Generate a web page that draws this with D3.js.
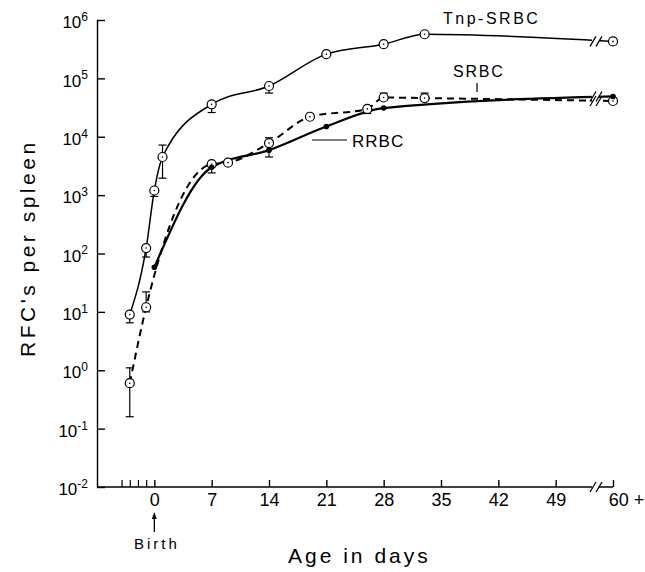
<!DOCTYPE html>
<html><head><meta charset="utf-8">
<script src="https://cdn.jsdelivr.net/npm/d3@7"></script>
<style>body{margin:0;background:#fff}svg{display:block;font-family:"Liberation Sans",Arial,sans-serif}</style>
</head><body><svg id="c" width="645" height="572"></svg>
<script>
// ---- data ----
const tnpDays   = [-3, -1, 0, 1, 7, 14, 21, 28, 33, 56];
const tnpValues = [9, 124, 1200, 4500, 36000, 74000, 260000, 385000, 570000, 430000];
const tnpLow    = [6.5, 87, 950, 1950, 26000, 56000, null, null, null, null];
const tnpHigh   = [null, null, null, 7200, null, null, null, null, null, null];

const srbcDays   = [-3, -1, 7, 9, 14, 19, 26, 28, 33, 56];
const srbcValues = [0.6, 12, 3400, 3600, 7800, 22000, 30000, 47000, 46000, 41000];
const srbcLow    = [0.16, 10, 2400, null, null, null, 25000, null, null, null];
const srbcHigh   = [1.1, 22, null, null, 9600, 25000, 33000, 56000, 56000, null];

const rrbcDays   = [0, 7, 14, 21, 28, 56];
const rrbcValues = [58, 3000, 5900, 15000, 31000, 49000];
const rrbcLow    = [null, null, 4500, null, null, null];
const rrbcHigh   = [null, null, null, null, null, null];

const xTickDays   = [0, 7, 14, 21, 28, 35, 42, 49, 56];
const xTickLabels = ["0", "7", "14", "21", "28", "35", "42", "49", "60 +"];
const xMinorDays  = [-4, -3, -2, -1];
const yTickExps   = [-2, -1, 0, 1, 2, 3, 4, 5, 6];

// ---- scales ----
const svg = d3.select("#c");
const x = d3.scaleLinear().domain([-7, 56]).range([97, 613]);
const y = d3.scaleLog().domain([1e-2, 1e6]).range([487, 20]);
const breakDay = 53.8;

// ---- axes ----
const xAxis = d3.axisBottom(x)
  .tickValues(xTickDays)
  .tickFormat((d, i) => xTickLabels[i])
  .tickSizeInner(-7).tickSizeOuter(0).tickPadding(6);
const gx = svg.append("g").attr("transform", `translate(0,${y(1e-2)})`).call(xAxis);
gx.selectAll("text").attr("font-size", 18).attr("fill", "#000");
gx.selectAll(".tick text").filter((d, i) => i === xTickDays.length - 1).attr("dx", 13);
gx.selectAll("line, path").attr("stroke", "#000").attr("stroke-width", 1.4);
gx.select(".domain").attr("d", `M${x(-7)},0H${x(56)}`);

const xMinor = d3.axisBottom(x).tickValues(xMinorDays).tickFormat("").tickSizeInner(-7).tickSizeOuter(0);
const gxm = svg.append("g").attr("transform", `translate(0,${y(1e-2)})`).call(xMinor);
gxm.select(".domain").remove();
gxm.selectAll("line").attr("stroke", "#000").attr("stroke-width", 1.2);

const yAxis = d3.axisLeft(y)
  .tickValues(yTickExps.map(e => Math.pow(10, e)))
  .tickFormat("").tickSizeInner(-8).tickSizeOuter(0);
const gy = svg.append("g").attr("transform", `translate(${x(-7)},0)`).call(yAxis);
gy.selectAll("line, path").attr("stroke", "#000").attr("stroke-width", 1.4);
gy.selectAll(".tick").each(function(d, i) {
  const t = d3.select(this).append("text")
    .attr("x", -9).attr("dy", "0.45em")
    .attr("text-anchor", "end").attr("fill", "#000").attr("font-size", 17);
  t.append("tspan").text("10");
  t.append("tspan").attr("dy", "-0.6em").attr("font-size", 12).text(String(yTickExps[i]));
});

// ---- series ----
const series = [
  {days: tnpDays, vals: tnpValues, low: tnpLow, high: tnpHigh, marker: "open", dash: null, width: 1.5},
  {days: srbcDays, vals: srbcValues, low: srbcLow, high: srbcHigh, marker: "open", dash: "7,5", width: 2},
  {days: rrbcDays, vals: rrbcValues, low: rrbcLow, high: rrbcHigh, marker: "filled", dash: null, width: 2.2}
];

const line = d3.line().x(d => x(d[0])).y(d => y(d[1])).curve(d3.curveMonotoneX);

series.forEach(s => {
  const pts = s.days.map((d, i) => [d, s.vals[i]]);
  svg.append("path").attr("d", line(pts)).attr("fill", "none")
    .attr("stroke", "#000").attr("stroke-width", s.width)
    .attr("stroke-dasharray", s.dash);
});

// break mask across lines and axis
svg.append("rect").attr("x", x(breakDay) - 3).attr("y", 0)
  .attr("width", 7).attr("height", y(1e-2) + 4).attr("fill", "#fff");
const breakYs = [y(tnpValues[tnpValues.length - 1]), y(srbcValues[srbcValues.length - 1]),
  y(rrbcValues[rrbcValues.length - 1]), y(1e-2)];
breakYs.forEach(by => {
  [x(breakDay) - 5, x(breakDay) + 1].forEach(bx => {
    svg.append("line").attr("x1", bx).attr("y1", by + 5).attr("x2", bx + 6).attr("y2", by - 5)
      .attr("stroke", "#000").attr("stroke-width", 1.3);
  });
});

// error bars
series.forEach(s => {
  s.days.forEach((d, i) => {
    [s.low[i], s.high[i]].forEach(b => {
      if (b == null) return;
      const cx = x(d);
      svg.append("line").attr("x1", cx).attr("x2", cx).attr("y1", y(s.vals[i])).attr("y2", y(b))
        .attr("stroke", "#000").attr("stroke-width", 1.2);
      svg.append("line").attr("x1", cx - 4).attr("x2", cx + 4).attr("y1", y(b)).attr("y2", y(b))
        .attr("stroke", "#000").attr("stroke-width", 1.2);
    });
  });
});

// markers
series.forEach(s => {
  s.days.forEach((d, i) => {
    const cx = x(d), cy = y(s.vals[i]);
    if (s.marker === "open") {
      svg.append("circle").attr("cx", cx).attr("cy", cy).attr("r", 4.5)
        .attr("fill", "#fff").attr("stroke", "#000").attr("stroke-width", 1.2);
      svg.append("circle").attr("cx", cx).attr("cy", cy).attr("r", 0.8).attr("fill", "#000");
    } else {
      svg.append("circle").attr("cx", cx).attr("cy", cy).attr("r", 2.8).attr("fill", "#000");
    }
  });
});

// ---- labels ----
svg.append("text").attr("x", 443).attr("y", 24).attr("font-size", 16)
  .attr("letter-spacing", 2.5).text("Tnp-SRBC");
svg.append("text").attr("x", 453).attr("y", 77).attr("font-size", 16)
  .attr("letter-spacing", 1.8).text("SRBC");
svg.append("line").attr("x1", 477).attr("x2", 477).attr("y1", 83).attr("y2", 92)
  .attr("stroke", "#000").attr("stroke-width", 1.2);
svg.append("text").attr("x", 352).attr("y", 147).attr("font-size", 17)
  .attr("letter-spacing", 1).text("RRBC");
svg.append("line").attr("x1", 312).attr("x2", 347).attr("y1", 140).attr("y2", 140)
  .attr("stroke", "#000").attr("stroke-width", 1.2);

// birth arrow
svg.append("line").attr("x1", x(0)).attr("x2", x(0)).attr("y1", 532).attr("y2", 516)
  .attr("stroke", "#000").attr("stroke-width", 1.3);
svg.append("path").attr("d", `M${x(0)},512 L${x(0) - 2.5},519 L${x(0) + 2.5},519 Z`).attr("fill", "#000");
svg.append("text").attr("x", 134).attr("y", 549).attr("font-size", 15)
  .attr("letter-spacing", 3).text("Birth");

// axis titles
svg.append("text").attr("x", 288).attr("y", 563).attr("font-size", 21)
  .attr("letter-spacing", 3).text("Age in days");
svg.append("text").attr("transform", "translate(35,357) rotate(-90)")
  .attr("font-size", 21).attr("letter-spacing", 3.5).text("RFC's per spleen");
</script></body></html>
